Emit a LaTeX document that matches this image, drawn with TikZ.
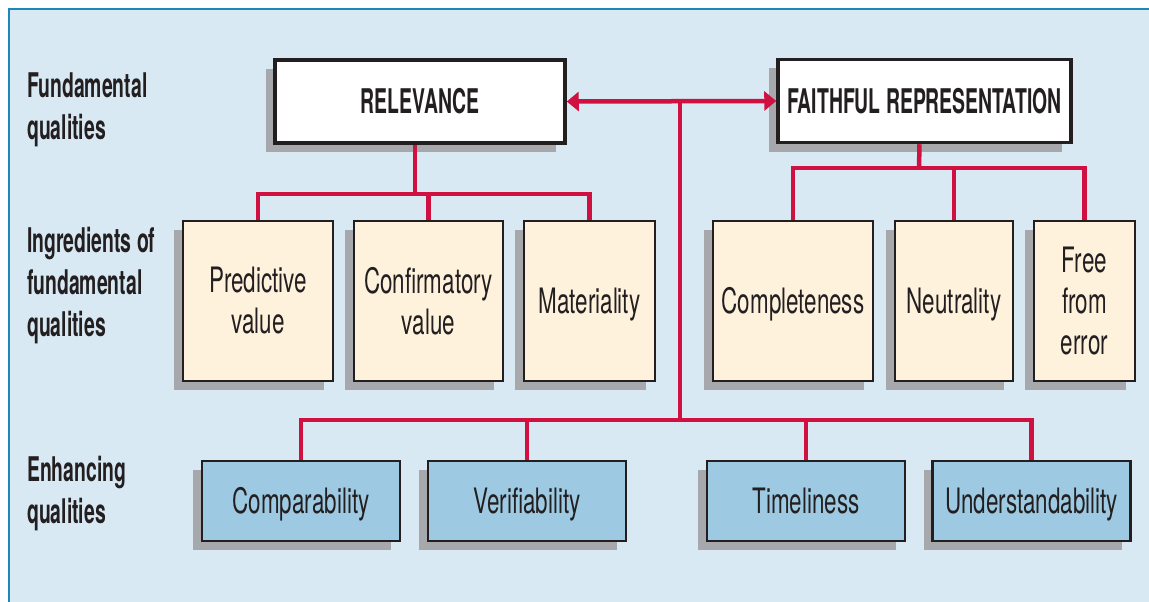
\documentclass[tikz,border=0pt]{standalone}
\usepackage{fontspec}
\setmainfont{TeX Gyre Heros}[FakeStretch=0.64]
\newfontfamily\headfont{TeX Gyre Heros}[FakeStretch=0.57]
\usepackage{tikz}
\usetikzlibrary{positioning,shadows,arrows.meta}

\definecolor{panelblue}{HTML}{D8E9F3}
\definecolor{panelline}{HTML}{1F86B8}
\definecolor{creamfill}{HTML}{FEF2DD}
\definecolor{enhfill}{HTML}{9DCAE2}
\definecolor{shadowgrey}{HTML}{A7A8AB}
\definecolor{linkred}{HTML}{CF1040}
\definecolor{inkdark}{HTML}{231F20}

\begin{document}
\begin{tikzpicture}[x=1pt,y=-1pt]
\tikzstyle{shadowed}=[drop shadow={shadow xshift=-9pt,shadow yshift=-9pt,opacity=1,fill=shadowgrey}]
\tikzstyle{oneline}=[text height=25pt,text depth=0pt]
\tikzstyle{fundbox}=[rectangle,draw=inkdark,line width=3.5pt,fill=white,shadowed,
    minimum height=83pt,inner sep=0pt,font=\headfont\bfseries\fontsize{34}{40}\selectfont,text=inkdark]
\tikzstyle{ingrbox}=[rectangle,draw=inkdark,line width=2pt,fill=creamfill,shadowed,
    minimum height=160pt,inner sep=0pt,align=center,font=\fontsize{35}{41}\selectfont,text=inkdark]
\tikzstyle{enhbox}=[rectangle,draw=inkdark,line width=2.5pt,fill=enhfill,shadowed,oneline,
    minimum width=198pt,minimum height=80pt,inner sep=0pt,font=\fontsize{35}{41}\selectfont,text=inkdark]
\tikzstyle{rowlabel}=[inner sep=0pt,anchor=west,align=left,text=inkdark,
    font=\headfont\bfseries\fontsize{34}{42}\selectfont]
\tikzstyle{redline}=[draw=linkred,line width=4.5pt]
    \useasboundingbox (0,0) rectangle (1149,602);
    % panel
    \fill[panelblue] (8,8) rectangle (1149,602);
    \draw[panelline,line width=1.5pt] (9,602) -- (9,9) -- (1149,9);
    % row labels
    \node[rowlabel] (fundlab) at (27,110) {Fundamental\\qualities};
    \node[rowlabel] (ingrlab) at (27,286) {Ingredients of\\fundamental\\qualities};
    \node[rowlabel] (enhlab) at (27,494) {Enhancing\\qualities};
    % fundamental qualities
    \node[fundbox,minimum width=290pt] (rel) at (420,101.5) {RELEVANCE};
    \node[fundbox,minimum width=293pt] (faith) at (924.5,101) {FAITHFUL REPRESENTATION};
    % ingredients
    \node[ingrbox,minimum width=150pt] (pred) at (258,301) {Predictive\\value};
    \node[ingrbox,minimum width=149pt] (conf) at (428.5,301) {Confirmatory\\value};
    \node[ingrbox,oneline,minimum width=131pt] (mat) at (589.5,301) {Materiality};
    \node[ingrbox,oneline,minimum width=160pt] (comp) at (793,301) {Completeness};
    \node[ingrbox,oneline,minimum width=118pt] (neut) at (954,301) {Neutrality};
    \node[ingrbox,minimum width=101pt] (free) at (1084.5,301) {Free\\from\\error};
    % enhancing
    \node[enhbox] (compar) at (301,501) {Comparability};
    \node[enhbox] (verif) at (527,501) {Verifiability};
    \node[enhbox] (timel) at (806,501) {Timeliness};
    \node[enhbox] (under) at (1031.5,501) {Understandability};
    % junctions
    \coordinate (reljoin) at (415,194);
    \coordinate (faithjoin) at (919,168);
    \coordinate (hub) at (680,101.5);
    \coordinate (enhjoin) at (680,420);
    % links
    \draw[redline,{Triangle[length=12pt,width=19pt]}-{Triangle[length=12pt,width=19pt]}] (rel.east) -- (faith.west);
    \draw[redline] (hub) -- (enhjoin);
    \draw[redline] ([xshift=-5pt]rel.south) -- (reljoin);
    \draw[redline] (pred.north) -- (pred.north |- reljoin) -- (mat.north |- reljoin) -- (mat.north);
    \draw[redline] (conf.north) -- (conf.north |- reljoin);
    \draw[redline] ([xshift=-5pt]faith.south) -- (faithjoin);
    \draw[redline] (comp.north) -- (comp.north |- faithjoin) -- (free.north |- faithjoin) -- (free.north);
    \draw[redline] (neut.north) -- (neut.north |- faithjoin);
    \draw[redline] (compar.north) -- (compar.north |- enhjoin) -- (under.north |- enhjoin) -- (under.north);
    \draw[redline] (verif.north) -- (verif.north |- enhjoin);
    \draw[redline] (timel.north) -- (timel.north |- enhjoin);
\end{tikzpicture}
\end{document}
